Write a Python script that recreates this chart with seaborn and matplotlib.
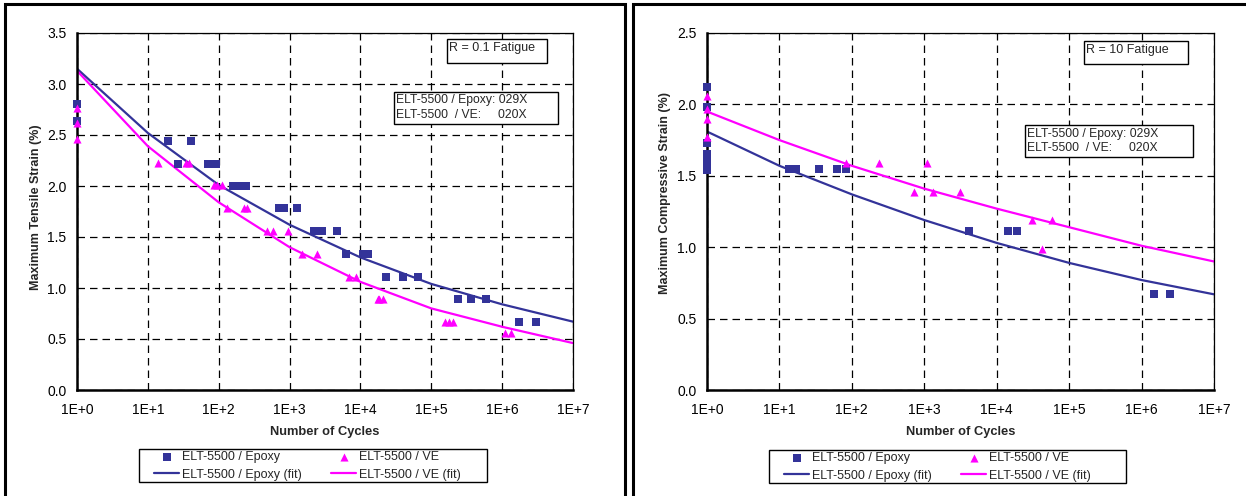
import numpy as np
import matplotlib
matplotlib.use('Agg')
import matplotlib.pyplot as plt
import matplotlib.ticker as mticker
from matplotlib.patches import Rectangle
import seaborn as sns

# ---- data ----
# R = 0.1 (tensile)
t_epoxy_n = [1, 1, 19, 27, 40, 70, 91, 160, 185, 215, 245, 700, 830, 1290,
             2200, 2900, 4700, 6300, 10700, 12600, 23000, 40000, 66000,
             240000, 365000, 590000, 1.74e6, 3.0e6]
t_epoxy_s = [2.80, 2.64, 2.44, 2.22, 2.44, 2.22, 2.22, 2.00, 2.00, 2.00, 2.00, 1.78, 1.78, 1.78,
             1.56, 1.56, 1.56, 1.33, 1.33, 1.33, 1.11, 1.11, 1.11,
             0.89, 0.89, 0.89, 0.67, 0.67]
t_ve_n = [1, 1, 1, 14, 35, 38, 87, 95, 112, 133, 230, 247, 480, 590, 940,
          1500, 2400, 7000, 8800, 17500, 18500, 20500, 158000, 180000, 205000,
          1.1e6, 1.35e6]
t_ve_s = [2.76, 2.62, 2.46, 2.23, 2.23, 2.23, 2.01, 2.01, 2.01, 1.78, 1.78, 1.78, 1.56, 1.56, 1.56,
          1.33, 1.33, 1.11, 1.11, 0.89, 0.89, 0.89, 0.67, 0.67, 0.67,
          0.56, 0.56]
fit_n = [1, 1e1, 1e2, 1e3, 1e4, 1e5, 1e6, 1e7]
t_epoxy_fit = [3.15, 2.52, 2.01, 1.62, 1.30, 1.04, 0.84, 0.67]
t_ve_fit = [3.13, 2.39, 1.84, 1.40, 1.06, 0.80, 0.62, 0.46]

# R = 10 (compressive)
c_epoxy_n = [1, 1, 1, 1, 1, 1, 1, 1, 1, 13.5, 17, 35, 62, 83, 4200, 14400, 19000, 1.5e6, 2.5e6]
c_epoxy_s = [2.12, 1.98, 1.73, 1.65, 1.62, 1.60, 1.58, 1.56, 1.54, 1.55, 1.55, 1.55, 1.55, 1.55,
             1.11, 1.11, 1.11, 0.67, 0.67]
c_ve_n = [1, 1, 1, 1, 83, 240, 1100, 720, 1300, 3100, 31000, 58000, 42000]
c_ve_s = [2.06, 1.97, 1.90, 1.77, 1.59, 1.59, 1.59, 1.39, 1.39, 1.39, 1.19, 1.19, 0.99]
c_epoxy_fit = [1.81, 1.57, 1.37, 1.19, 1.03, 0.89, 0.77, 0.67]
c_ve_fit = [1.95, 1.75, 1.57, 1.41, 1.27, 1.14, 1.01, 0.90]

decades = [1, 1e1, 1e2, 1e3, 1e4, 1e5, 1e6, 1e7]
decade_labels = ['1E+0', '1E+1', '1E+2', '1E+3', '1E+4', '1E+5', '1E+6', '1E+7']

BLUE = '#333399'
MAG = '#FF00FF'
W, H = 1246, 496

sns.set_style('white')
plt.rcParams['font.family'] = ['Liberation Sans', 'DejaVu Sans']

fig = plt.figure(figsize=(W / 100, H / 100), dpi=100)


def fx(px):
    return px / W


def fy(py):
    return 1 - py / H


def box(x0, y0, x1, y1, fill=True):
    fig.add_artist(Rectangle((fx(x0), fy(y1)), fx(x1 - x0), (y1 - y0) / H,
                             transform=fig.transFigure, fill=fill, facecolor='white',
                             edgecolor='black', lw=1, zorder=5))


def panel(x0, x1, y_top, y_bot, ymax, ylabel, ylab_x, ylab_y, ep_n, ep_s, ve_n, ve_s, ep_fit, ve_fit,
          title, box1, box2, leg_box):
    ax = fig.add_axes([fx(x0), fy(y_bot), fx(x1 - x0), (y_bot - y_top) / H])
    sns.lineplot(x=fit_n, y=ep_fit, color=BLUE, lw=1.6, ax=ax, label='ELT-5500 / Epoxy (fit)', zorder=2)
    sns.lineplot(x=fit_n, y=ve_fit, color=MAG, lw=1.6, ax=ax, label='ELT-5500 / VE (fit)', zorder=2)
    sns.scatterplot(x=ep_n, y=ep_s, marker='s', color=BLUE, s=26, linewidth=0, ax=ax,
                    label='ELT-5500 / Epoxy', zorder=3, clip_on=False)
    sns.scatterplot(x=ve_n, y=ve_s, marker='^', color=MAG, s=34, linewidth=0, ax=ax,
                    label='ELT-5500 / VE', zorder=3, clip_on=False)
    ax.set_xscale('log')
    ax.set_xlim(1, 1e7)
    ax.set_ylim(0, ymax)
    ax.xaxis.set_major_locator(mticker.FixedLocator(decades))
    ax.xaxis.set_major_formatter(mticker.FixedFormatter(decade_labels))
    ax.xaxis.set_minor_locator(mticker.LogLocator(base=10, subs=np.arange(2, 10), numticks=20))
    ax.xaxis.set_minor_formatter(mticker.NullFormatter())
    ax.yaxis.set_major_locator(mticker.MultipleLocator(0.5))
    ax.yaxis.set_minor_locator(mticker.MultipleLocator(0.1))
    ax.yaxis.set_major_formatter(mticker.FormatStrFormatter('%.1f'))
    ax.tick_params(which='major', direction='inout', length=5, width=1, labelsize=10, colors='black')
    ax.tick_params(which='minor', direction='in', length=2.5, width=1)
    ax.tick_params(axis='x', pad=7)
    ax.tick_params(axis='y', pad=5)
    ax.grid(True, which='major', color='black', ls=(0, (6, 4)), lw=0.9)
    for s in ['left', 'bottom']:
        ax.spines[s].set_linewidth(1.8)
        ax.spines[s].set_color('black')
    for s in ['top', 'right']:
        ax.spines[s].set_linewidth(0.9)
        ax.spines[s].set_color('black')
    ax.set_xlabel('')
    ax.set_ylabel('')
    fig.text(fx((x0 + x1) / 2), fy(432), 'Number of Cycles', ha='center', va='center',
             fontsize=9.3, fontweight='bold')
    fig.text(fx(ylab_x), fy(ylab_y), ylabel, rotation=90, ha='center', va='center',
             fontsize=9, fontweight='bold')

    # legend: frame drawn as a plain rectangle, entries placed inside
    h, l = ax.get_legend_handles_labels()
    order = [2, 0, 3, 1]
    ax.get_legend().remove()
    lx0, ly0, lx1, ly1 = leg_box
    box(lx0, ly0, lx1, ly1, fill=False)
    leg = fig.legend([h[i] for i in order], [l[i] for i in order], ncol=2, fontsize=9,
                     loc='upper left', bbox_to_anchor=(fx(lx0 + 15), fy(ly0 + 2)),
                     bbox_transform=fig.transFigure, frameon=False, borderpad=0,
                     labelspacing=0.45, handlelength=2.0, handletextpad=0.2,
                     columnspacing=2.4, borderaxespad=0)
    leg.set_zorder(7)

    # annotation boxes
    bx0, by0, bx1, by1 = box1
    box(bx0, by0, bx1, by1)
    fig.text(fx(bx0 + 2), fy(by0 + 9), title, fontsize=9, ha='left', va='center', zorder=6)
    bx0, by0, bx1, by1 = box2
    box(bx0, by0, bx1, by1)
    fig.text(fx(bx0 + 2), fy(by0 + 8.5), 'ELT-5500 / Epoxy: 029X', fontsize=8.7, ha='left',
             va='center', zorder=6)
    fig.text(fx(bx0 + 2), fy(by0 + 23.5), 'ELT-5500  / VE:     020X', fontsize=8.7, ha='left',
             va='center', zorder=6)
    return ax


panel(77, 573, 33, 390, 3.5, 'Maximum Tensile Strain (%)', 36, 207,
      t_epoxy_n, t_epoxy_s, t_ve_n, t_ve_s, t_epoxy_fit, t_ve_fit,
      'R = 0.1 Fatigue', (447, 39, 547, 63), (394, 92, 558, 124), (139, 449, 487, 482))
panel(707, 1214, 33, 390, 2.5, 'Maximum Compressive Strain (%)', 665, 193,
      c_epoxy_n, c_epoxy_s, c_ve_n, c_ve_s, c_epoxy_fit, c_ve_fit,
      'R = 10 Fatigue', (1084, 41, 1188, 64), (1025, 125, 1193, 157), (769, 450, 1126, 483))

# panel frames
for (a, b) in [(5, 625), (633, 1260)]:
    fig.add_artist(Rectangle((fx(a), fy(510)), fx(b - a), 506 / H, transform=fig.transFigure,
                             fill=False, edgecolor='black', lw=2.2, zorder=10))

fig.savefig('out.png', dpi=100)
